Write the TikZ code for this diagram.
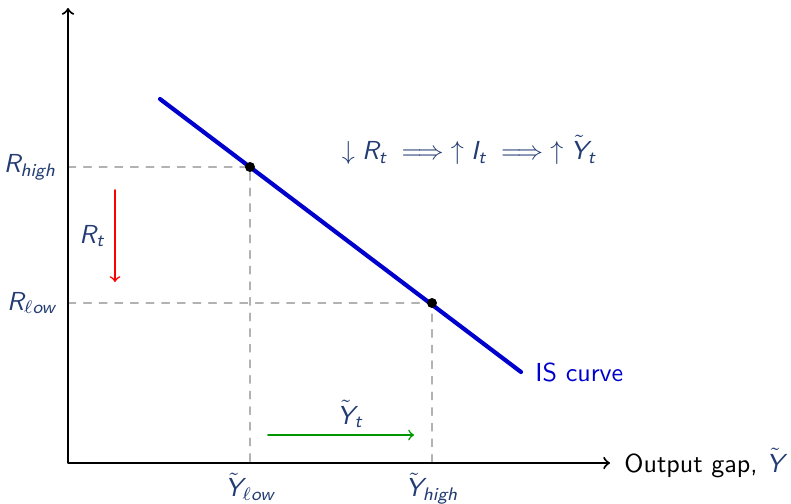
\documentclass[tikz,border=0pt]{standalone}
\usepackage{amsmath}
\usetikzlibrary{positioning}
\definecolor{navy}{RGB}{35,60,115}
\definecolor{isblue}{RGB}{0,0,205}
\definecolor{gapgreen}{RGB}{0,150,0}
% sans italic letters inside math
\newcommand{\sv}[1]{\textit{#1}}
\begin{document}
\begin{tikzpicture}[x=0.135mm, y=-0.135mm, font=\sffamily, line join=round, line cap=round, >=to]
\useasboundingbox (0,0) rectangle (791,503);
\path 	(68,463) coordinate (O)
(68,8) coordinate (Ytop)
(610,463) coordinate (Xend)
(160,99) coordinate (S)
(521,372) coordinate (T)
(250,167) coordinate (P)
(432,303) coordinate (Q)
(115,190) coordinate (Ra)
(115,282) coordinate (Rb)
(268,435) coordinate (Ya)
(414,435) coordinate (Yb);
\draw[dashed, gray!60, thin] (O |- P)--(P)--(P |- O);
\draw[dashed, gray!60, thin] (O |- Q)--(Q)--(Q |- O);
\draw[thick, <->] (Ytop)--(O)--(Xend);
\draw[isblue, line width=1.6pt] (S)--(T);
\fill (P) circle (5) (Q) circle (5);
\draw[red, semithick, ->] (Ra)--(Rb);
\draw[gapgreen, semithick, ->] (Ya)--(Yb);
\node[navy, left=1pt] (Rhigh) at (O |- P) {$\sv{R}_{\sv{high}}$};
\node[navy, left=1pt] (Rlow) at (O |- Q) {$\sv{R}_{\ell\sv{ow}}$};
\node[navy] (Rt) at (92,236) {$\sv{R}_{\sv{t}}$};
\node[navy] (Yt) at (350,414) {$\tilde{\sv{Y}}_{\sv{t}}$};
\node[navy, below=2.5pt, inner sep=1pt] (Ylow) at (P |- O) {$\tilde{\sv{Y}}_{\ell\sv{ow}}$};
\node[navy, below=2.5pt, inner sep=1pt] (Yhigh) at (Q |- O) {$\tilde{\sv{Y}}_{\sv{high}}$};
\node[navy] (chain) at (469,150) {$\downarrow \sv{R}_{\sv{t}} \implies \uparrow \sv{I}_{\sv{t}} \implies \uparrow \tilde{\sv{Y}}_{\sv{t}}$};
\node[isblue, right=2pt] (IS) at (T) {IS curve};
\node[right=2pt] (gap) at (Xend) {Output gap, {\color{navy}$\tilde{\sv{Y}}$}};
\end{tikzpicture}
\end{document}
